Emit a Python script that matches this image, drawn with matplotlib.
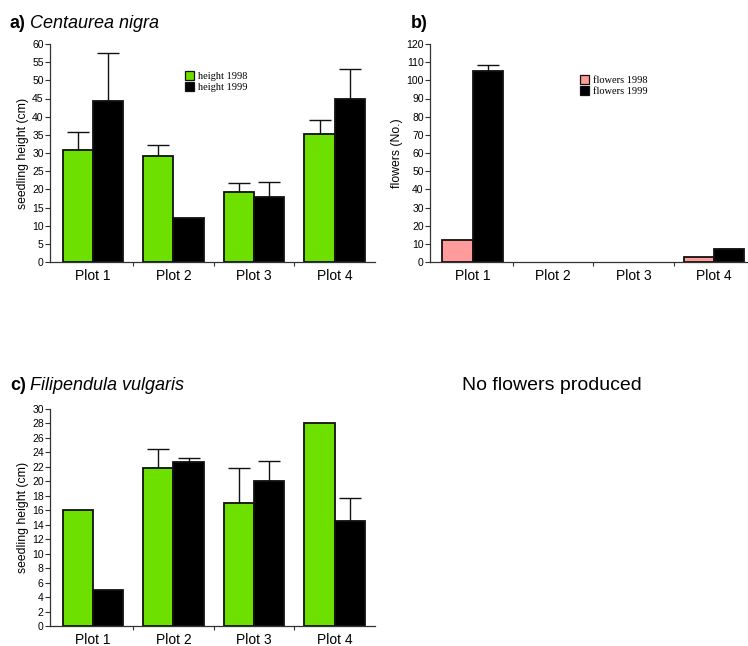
import matplotlib
matplotlib.use("Agg")
import matplotlib.pyplot as plt
from matplotlib.patches import Patch
import numpy as np

plt.rcParams['font.family'] = ['Liberation Sans', 'DejaVu Sans']

# --- data -------------------------------------------------------------
plots = ['Plot 1', 'Plot 2', 'Plot 3', 'Plot 4']

# a) Centaurea nigra seedling height (cm)
cn_height_1998 = [30.8, 29.3, 19.2, 35.3]
cn_err_1998 = [5.1, 3.0, 2.5, 3.7]
cn_height_1999 = [44.4, 12.0, 18.0, 45.0]
cn_err_1999 = [13.0, 0.0, 4.0, 8.0]

# b) Centaurea nigra flowers (No.)
cn_flowers_1998 = [12.0, 0.0, 0.0, 3.0]
cn_flowers_err_1998 = [0.0, 0.0, 0.0, 0.0]
cn_flowers_1999 = [105.0, 0.0, 0.0, 7.0]
cn_flowers_err_1999 = [3.5, 0.0, 0.0, 0.4]

# c) Filipendula vulgaris seedling height (cm)
fv_height_1998 = [16.0, 21.8, 17.0, 28.0]
fv_err_1998 = [0.0, 2.7, 4.8, 0.0]
fv_height_1999 = [5.0, 22.7, 20.0, 14.5]
fv_err_1999 = [0.0, 0.5, 2.8, 3.2]

GREEN = '#6ee000'
PINK = '#ff9b9b'
BLACK = '#000000'

W, H = 748, 646
fig = plt.figure(figsize=(W / 100, H / 100), dpi=100)


def px_axes(x0, y_top, x1, y_bottom):
    return fig.add_axes([x0 / W, 1 - y_bottom / H, (x1 - x0) / W, (y_bottom - y_top) / H])


def grouped_bars(ax, v1, e1, c1, v2, e2, ylim, ystep, ylabel):
    x = np.arange(len(plots)) + 0.5
    bw = 0.375
    for vals, errs, col, off in ((v1, e1, c1, -bw / 2), (v2, e2, BLACK, bw / 2)):
        for xi, v, e in zip(x + off, vals, errs):
            if v <= 0:
                continue  # nothing recorded, no bar drawn
            ax.bar(xi, v, width=bw, color=col, edgecolor='#111111',
                   linewidth=1.3, zorder=2)
            if e > 0:
                ax.errorbar(xi, v, yerr=[[0], [e]], fmt='none', ecolor='#111111',
                            elinewidth=1.0, capsize=8, capthick=1.0, zorder=1)
    ax.set_xlim(-0.03, 4.0)
    ax.set_ylim(*ylim)
    ax.set_yticks(np.arange(ylim[0], ylim[1] + 0.1, ystep))
    ax.set_xticks(x)
    ax.set_xticklabels(plots, fontsize=10)
    ax.set_xticks([1, 2, 3], minor=True)
    ax.tick_params(axis='x', which='major', length=0, pad=5)
    ax.tick_params(axis='x', which='minor', length=3, width=0.8, color='#333333')
    ax.tick_params(axis='y', length=3.5, width=0.8, color='#333333',
                   labelsize=7.5, pad=1)
    for side in ('top', 'right'):
        ax.spines[side].set_visible(False)
    for side in ('left', 'bottom'):
        ax.spines[side].set_linewidth(0.9)
        ax.spines[side].set_color('#333333')
    ax.set_ylabel(ylabel, fontsize=8.8, labelpad=2)


def legend(ax, labels, colors, anchor):
    handles = [Patch(facecolor=c, edgecolor='#111111', linewidth=0.9) for c in colors]
    ax.legend(handles, labels, loc='upper left', bbox_to_anchor=anchor,
              bbox_transform=fig.transFigure, frameon=False,
              prop={'family': 'Liberation Serif', 'size': 7.5},
              handlelength=0.85, handleheight=0.9, handletextpad=0.4,
              labelspacing=0.15, borderpad=0, borderaxespad=0)


# a) Centaurea nigra height
ax_a = px_axes(50, 44, 375, 262)
grouped_bars(ax_a, cn_height_1998, cn_err_1998, GREEN,
             cn_height_1999, cn_err_1999, (0, 60), 5, 'seedling height (cm)')
legend(ax_a, ['height 1998', 'height 1999'], [GREEN, BLACK], (185 / W, 1 - 71 / H))
fig.text(10 / W, 1 - 23 / H, 'a)', fontsize=13, fontweight='bold', va='center')
fig.text(30 / W, 1 - 23 / H, 'Centaurea nigra', fontsize=13, style='italic', va='center')

# b) Centaurea nigra flowers
ax_b = px_axes(430, 44, 754, 262)
grouped_bars(ax_b, cn_flowers_1998, cn_flowers_err_1998, PINK,
             cn_flowers_1999, cn_flowers_err_1999, (0, 120), 10, 'flowers (No.)')
legend(ax_b, ['flowers 1998', 'flowers 1999'], [PINK, BLACK], (580 / W, 1 - 75 / H))
fig.text(411 / W, 1 - 23 / H, 'b)', fontsize=13, fontweight='bold', va='center')

# c) Filipendula vulgaris height
ax_c = px_axes(50, 409, 375, 626)
grouped_bars(ax_c, fv_height_1998, fv_err_1998, GREEN,
             fv_height_1999, fv_err_1999, (0, 30), 2, 'seedling height (cm)')
fig.text(10 / W, 1 - 386 / H, 'c)', fontsize=13, fontweight='bold', va='center')
fig.text(30 / W, 1 - 386 / H, 'Filipendula vulgaris', fontsize=13, style='italic', va='center')

fig.text(462 / W, 1 - 386 / H, 'No flowers produced', fontsize=14, va='center')

fig.savefig('out.png', dpi=100)
